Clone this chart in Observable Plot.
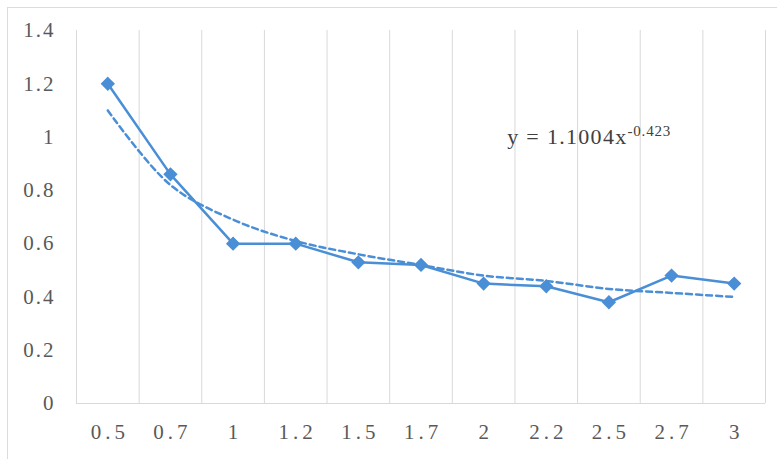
<!DOCTYPE html>
<html>
<head>
<meta charset="utf-8">
<script src="https://cdn.jsdelivr.net/npm/d3@7"></script>
<script src="https://cdn.jsdelivr.net/npm/@observablehq/plot@0.6"></script>
<style>
  html, body { margin: 0; padding: 0; background: #fff; }
  #wrap { position: relative; width: 777px; height: 459px; overflow: hidden; }
  #frame { position: absolute; left: 7px; top: 7px; width: 800px; height: 470px; border: 1px solid #dcdcdc; box-sizing: border-box; }
  #chart { position: absolute; left: 0; top: 0; }
  #chart svg, #chart svg text { font-family: "Liberation Serif", "DejaVu Serif", serif !important; }
</style>
</head>
<body>
<div id="wrap"><div id="frame"></div><div id="chart"></div></div>
<script>
const categories = ["0.5", "0.7", "1", "1.2", "1.5", "1.7", "2", "2.2", "2.5", "2.7", "3"];
const values = [1.2, 0.86, 0.6, 0.6, 0.53, 0.52, 0.45, 0.44, 0.38, 0.48, 0.45];
const trend = [1.10, 0.82, 0.69, 0.61, 0.56, 0.52, 0.48, 0.46, 0.43, 0.415, 0.40];
const yTicks = [0, 0.2, 0.4, 0.6, 0.8, 1, 1.2, 1.4];
const equation = "y = 1.1004x";
const exponent = "-0.423";

const data = categories.map((c, i) => ({i, cat: c, value: values[i], trend: trend[i]}));
const edges = d3.range(categories.length + 1).map(i => i - 0.5);
const blue = "#4a8fd6";

const plot = Plot.plot({
  width: 777,
  height: 459,
  marginLeft: 76,
  marginRight: 12,
  marginTop: 30,
  marginBottom: 56,
  style: {fontSize: "21px", color: "#595959", background: "transparent"},
  x: {type: "linear", domain: [-0.5, categories.length - 0.5], ticks: d3.range(categories.length),
      tickFormat: i => categories[i], tickSize: 0, tickPadding: 21, label: null},
  y: {domain: [0, 1.4], ticks: yTicks, tickFormat: d => String(d), tickSize: 0, tickPadding: 21, label: null},
  marks: [
    Plot.ruleX(edges, {stroke: "#d9d9d9", strokeWidth: 1}),
    Plot.ruleY([0], {stroke: "#d9d9d9", strokeWidth: 1}),
    Plot.line(data, {x: "i", y: "trend", stroke: blue, strokeWidth: 2.5, strokeDasharray: "6,4", curve: "catmull-rom"}),
    Plot.line(data, {x: "i", y: "value", stroke: blue, strokeWidth: 2.5}),
    Plot.dot(data, {x: "i", y: "value", symbol: "diamond2", r: 5.5, fill: blue, stroke: blue}),
    Plot.text([equation], {x: 7, y: 1.0, text: d => d, textAnchor: "start", dx: -39, fontSize: 22, fill: "#404040"})
  ]
});
const xTickTexts = new Set(categories);
const yTickTexts = new Set(yTicks.map(String));
plot.querySelectorAll("text").forEach(t => {
  if (t.textContent === equation) {
    t.style.letterSpacing = "1.3px";
    const ts = document.createElementNS("http://www.w3.org/2000/svg", "tspan");
    ts.setAttribute("font-size", "15");
    ts.setAttribute("dy", "-8");
    ts.style.letterSpacing = "0.8px";
    ts.textContent = exponent;
    t.appendChild(ts);
  } else if (t.closest("[aria-label*='x-axis']") && xTickTexts.has(t.textContent)) {
    t.style.letterSpacing = "4px";
    t.setAttribute("dx", "2");
  } else if (t.closest("[aria-label*='y-axis']") && yTickTexts.has(t.textContent)) {
    t.style.letterSpacing = "2px";
  }
});
document.getElementById("chart").appendChild(plot);
</script>
</body>
</html>
